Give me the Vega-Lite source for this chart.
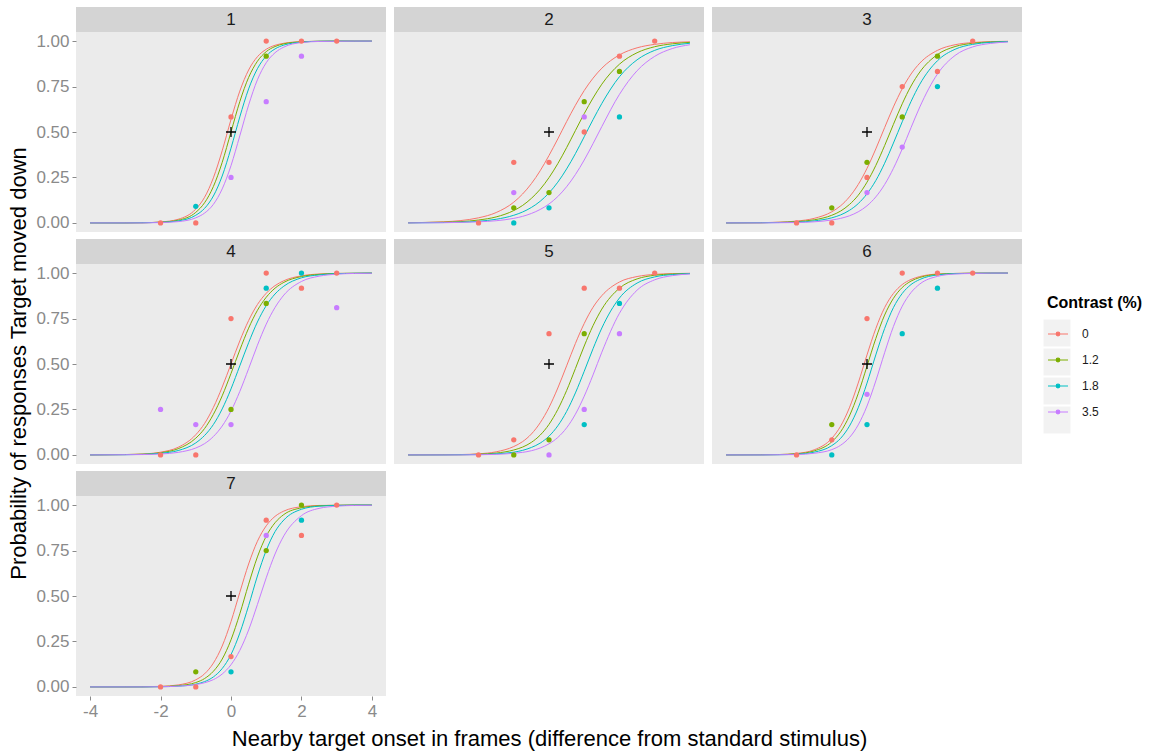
{
"$schema": "https://vega.github.io/schema/vega-lite/v6.json",
"background": "#FFFFFF",
"padding": {"left": 7, "top": 7, "right": 5, "bottom": 5},
"datasets": {
"panels": [{"p":1},{"p":2},{"p":3},{"p":4},{"p":5},{"p":6},{"p":7}],
"keys": [{"k":"k1"},{"k":"k2"},{"k":"k3"},{"k":"k4"}],
"obs": [
{"p":1,"c":"0","x":-2,"y":0},{"p":1,"c":"1.8","x":-1,"y":0.091},{"p":1,"c":"0","x":-1,"y":0},{"p":1,"c":"0","x":0,"y":0.583},{"p":1,"c":"3.5","x":0,"y":0.25},{"p":1,"c":"0","x":1,"y":1},{"p":1,"c":"1.2","x":1,"y":0.917},{"p":1,"c":"3.5","x":1,"y":0.667},{"p":1,"c":"0","x":2,"y":1},{"p":1,"c":"3.5","x":2,"y":0.917},{"p":1,"c":"0","x":3,"y":1},
{"p":2,"c":"0","x":-2,"y":0},{"p":2,"c":"0","x":-1,"y":0.333},{"p":2,"c":"3.5","x":-1,"y":0.167},{"p":2,"c":"1.2","x":-1,"y":0.083},{"p":2,"c":"1.8","x":-1,"y":0},{"p":2,"c":"0","x":0,"y":0.333},{"p":2,"c":"1.2","x":0,"y":0.167},{"p":2,"c":"1.8","x":0,"y":0.083},{"p":2,"c":"1.2","x":1,"y":0.667},{"p":2,"c":"3.5","x":1,"y":0.583},{"p":2,"c":"0","x":1,"y":0.5},{"p":2,"c":"0","x":2,"y":0.917},{"p":2,"c":"1.2","x":2,"y":0.833},{"p":2,"c":"1.8","x":2,"y":0.583},{"p":2,"c":"0","x":3,"y":1},
{"p":3,"c":"0","x":-2,"y":0},{"p":3,"c":"1.2","x":-1,"y":0.083},{"p":3,"c":"0","x":-1,"y":0},{"p":3,"c":"1.2","x":0,"y":0.333},{"p":3,"c":"0","x":0,"y":0.25},{"p":3,"c":"3.5","x":0,"y":0.167},{"p":3,"c":"0","x":1,"y":0.75},{"p":3,"c":"1.2","x":1,"y":0.583},{"p":3,"c":"3.5","x":1,"y":0.417},{"p":3,"c":"1.2","x":2,"y":0.917},{"p":3,"c":"0","x":2,"y":0.833},{"p":3,"c":"1.8","x":2,"y":0.75},{"p":3,"c":"0","x":3,"y":1},
{"p":4,"c":"3.5","x":-2,"y":0.25},{"p":4,"c":"0","x":-2,"y":0},{"p":4,"c":"3.5","x":-1,"y":0.167},{"p":4,"c":"0","x":-1,"y":0},{"p":4,"c":"0","x":0,"y":0.75},{"p":4,"c":"1.2","x":0,"y":0.25},{"p":4,"c":"3.5","x":0,"y":0.167},{"p":4,"c":"0","x":1,"y":1},{"p":4,"c":"1.8","x":1,"y":0.917},{"p":4,"c":"1.2","x":1,"y":0.833},{"p":4,"c":"1.8","x":2,"y":1},{"p":4,"c":"0","x":2,"y":0.917},{"p":4,"c":"0","x":3,"y":1},{"p":4,"c":"3.5","x":3,"y":0.81},
{"p":5,"c":"0","x":-2,"y":0},{"p":5,"c":"0","x":-1,"y":0.083},{"p":5,"c":"1.2","x":-1,"y":0},{"p":5,"c":"0","x":0,"y":0.667},{"p":5,"c":"1.2","x":0,"y":0.083},{"p":5,"c":"3.5","x":0,"y":0},{"p":5,"c":"0","x":1,"y":0.917},{"p":5,"c":"1.2","x":1,"y":0.667},{"p":5,"c":"3.5","x":1,"y":0.25},{"p":5,"c":"1.8","x":1,"y":0.167},{"p":5,"c":"0","x":2,"y":0.917},{"p":5,"c":"1.8","x":2,"y":0.833},{"p":5,"c":"3.5","x":2,"y":0.667},{"p":5,"c":"0","x":3,"y":1},
{"p":6,"c":"0","x":-2,"y":0},{"p":6,"c":"1.2","x":-1,"y":0.167},{"p":6,"c":"0","x":-1,"y":0.083},{"p":6,"c":"1.8","x":-1,"y":0},{"p":6,"c":"0","x":0,"y":0.75},{"p":6,"c":"3.5","x":0,"y":0.333},{"p":6,"c":"1.8","x":0,"y":0.167},{"p":6,"c":"0","x":1,"y":1},{"p":6,"c":"1.8","x":1,"y":0.667},{"p":6,"c":"0","x":2,"y":1},{"p":6,"c":"1.8","x":2,"y":0.917},{"p":6,"c":"0","x":3,"y":1},
{"p":7,"c":"0","x":-2,"y":0},{"p":7,"c":"1.2","x":-1,"y":0.083},{"p":7,"c":"0","x":-1,"y":0},{"p":7,"c":"0","x":0,"y":0.167},{"p":7,"c":"1.8","x":0,"y":0.083},{"p":7,"c":"0","x":1,"y":0.917},{"p":7,"c":"3.5","x":1,"y":0.833},{"p":7,"c":"1.2","x":1,"y":0.75},{"p":7,"c":"1.2","x":2,"y":1},{"p":7,"c":"1.8","x":2,"y":0.917},{"p":7,"c":"0","x":2,"y":0.833},{"p":7,"c":"0","x":3,"y":1}
],
"fit": [
{"p":1,"c":"0","x":-4,"y":0},{"p":1,"c":"0","x":-3,"y":0},{"p":1,"c":"0","x":-2.5,"y":0.001},{"p":1,"c":"0","x":-2,"y":0.005},{"p":1,"c":"0","x":-1.5,"y":0.02},{"p":1,"c":"0","x":-1,"y":0.076},{"p":1,"c":"0","x":-0.75,"y":0.141},{"p":1,"c":"0","x":-0.5,"y":0.248},{"p":1,"c":"0","x":-0.25,"y":0.397},{"p":1,"c":"0","x":0,"y":0.569},{"p":1,"c":"0","x":0.25,"y":0.725},{"p":1,"c":"0","x":0.5,"y":0.841},{"p":1,"c":"0","x":0.75,"y":0.914},{"p":1,"c":"0","x":1,"y":0.955},{"p":1,"c":"0","x":1.25,"y":0.977},{"p":1,"c":"0","x":1.5,"y":0.988},{"p":1,"c":"0","x":2,"y":0.997},{"p":1,"c":"0","x":2.5,"y":0.999},{"p":1,"c":"0","x":3,"y":1},{"p":1,"c":"0","x":3.5,"y":1},{"p":1,"c":"0","x":4,"y":1},
{"p":1,"c":"1.2","x":-4,"y":0},{"p":1,"c":"1.2","x":-3,"y":0},{"p":1,"c":"1.2","x":-2.5,"y":0.001},{"p":1,"c":"1.2","x":-2,"y":0.004},{"p":1,"c":"1.2","x":-1.5,"y":0.015},{"p":1,"c":"1.2","x":-1,"y":0.058},{"p":1,"c":"1.2","x":-0.75,"y":0.111},{"p":1,"c":"1.2","x":-0.5,"y":0.2},{"p":1,"c":"1.2","x":-0.25,"y":0.333},{"p":1,"c":"1.2","x":0,"y":0.5},{"p":1,"c":"1.2","x":0.25,"y":0.667},{"p":1,"c":"1.2","x":0.5,"y":0.8},{"p":1,"c":"1.2","x":0.75,"y":0.889},{"p":1,"c":"1.2","x":1,"y":0.942},{"p":1,"c":"1.2","x":1.25,"y":0.97},{"p":1,"c":"1.2","x":1.5,"y":0.985},{"p":1,"c":"1.2","x":2,"y":0.996},{"p":1,"c":"1.2","x":2.5,"y":0.999},{"p":1,"c":"1.2","x":3,"y":1},{"p":1,"c":"1.2","x":3.5,"y":1},{"p":1,"c":"1.2","x":4,"y":1},
{"p":1,"c":"1.8","x":-4,"y":0},{"p":1,"c":"1.8","x":-3,"y":0},{"p":1,"c":"1.8","x":-2.5,"y":0.001},{"p":1,"c":"1.8","x":-2,"y":0.003},{"p":1,"c":"1.8","x":-1.5,"y":0.011},{"p":1,"c":"1.8","x":-1,"y":0.042},{"p":1,"c":"1.8","x":-0.75,"y":0.08},{"p":1,"c":"1.8","x":-0.5,"y":0.148},{"p":1,"c":"1.8","x":-0.25,"y":0.258},{"p":1,"c":"1.8","x":0,"y":0.411},{"p":1,"c":"1.8","x":0.25,"y":0.583},{"p":1,"c":"1.8","x":0.5,"y":0.737},{"p":1,"c":"1.8","x":0.75,"y":0.848},{"p":1,"c":"1.8","x":1,"y":0.918},{"p":1,"c":"1.8","x":1.25,"y":0.957},{"p":1,"c":"1.8","x":1.5,"y":0.978},{"p":1,"c":"1.8","x":2,"y":0.994},{"p":1,"c":"1.8","x":2.5,"y":0.999},{"p":1,"c":"1.8","x":3,"y":1},{"p":1,"c":"1.8","x":3.5,"y":1},{"p":1,"c":"1.8","x":4,"y":1},
{"p":1,"c":"3.5","x":-4,"y":0},{"p":1,"c":"3.5","x":-3,"y":0},{"p":1,"c":"3.5","x":-2.5,"y":0},{"p":1,"c":"3.5","x":-2,"y":0.002},{"p":1,"c":"3.5","x":-1.5,"y":0.007},{"p":1,"c":"3.5","x":-1,"y":0.028},{"p":1,"c":"3.5","x":-0.75,"y":0.054},{"p":1,"c":"3.5","x":-0.5,"y":0.102},{"p":1,"c":"3.5","x":-0.25,"y":0.187},{"p":1,"c":"3.5","x":0,"y":0.315},{"p":1,"c":"3.5","x":0.25,"y":0.479},{"p":1,"c":"3.5","x":0.5,"y":0.648},{"p":1,"c":"3.5","x":0.75,"y":0.787},{"p":1,"c":"3.5","x":1,"y":0.881},{"p":1,"c":"3.5","x":1.25,"y":0.936},{"p":1,"c":"3.5","x":1.5,"y":0.967},{"p":1,"c":"3.5","x":2,"y":0.992},{"p":1,"c":"3.5","x":2.5,"y":0.998},{"p":1,"c":"3.5","x":3,"y":0.999},{"p":1,"c":"3.5","x":3.5,"y":1},{"p":1,"c":"3.5","x":4,"y":1},
{"p":2,"c":"0","x":-4,"y":0.001},{"p":2,"c":"0","x":-3,"y":0.006},{"p":2,"c":"0","x":-2.5,"y":0.013},{"p":2,"c":"0","x":-2,"y":0.028},{"p":2,"c":"0","x":-1.5,"y":0.057},{"p":2,"c":"0","x":-1,"y":0.114},{"p":2,"c":"0","x":-0.75,"y":0.159},{"p":2,"c":"0","x":-0.5,"y":0.216},{"p":2,"c":"0","x":-0.25,"y":0.287},{"p":2,"c":"0","x":0,"y":0.371},{"p":2,"c":"0","x":0.25,"y":0.462},{"p":2,"c":"0","x":0.5,"y":0.557},{"p":2,"c":"0","x":0.75,"y":0.647},{"p":2,"c":"0","x":1,"y":0.728},{"p":2,"c":"0","x":1.25,"y":0.796},{"p":2,"c":"0","x":1.5,"y":0.851},{"p":2,"c":"0","x":2,"y":0.924},{"p":2,"c":"0","x":2.5,"y":0.963},{"p":2,"c":"0","x":3,"y":0.982},{"p":2,"c":"0","x":3.5,"y":0.992},{"p":2,"c":"0","x":4,"y":0.996},
{"p":2,"c":"1.2","x":-4,"y":0.001},{"p":2,"c":"1.2","x":-3,"y":0.004},{"p":2,"c":"1.2","x":-2.5,"y":0.007},{"p":2,"c":"1.2","x":-2,"y":0.016},{"p":2,"c":"1.2","x":-1.5,"y":0.033},{"p":2,"c":"1.2","x":-1,"y":0.068},{"p":2,"c":"1.2","x":-0.75,"y":0.096},{"p":2,"c":"1.2","x":-0.5,"y":0.135},{"p":2,"c":"1.2","x":-0.25,"y":0.185},{"p":2,"c":"1.2","x":0,"y":0.249},{"p":2,"c":"1.2","x":0.25,"y":0.326},{"p":2,"c":"1.2","x":0.5,"y":0.414},{"p":2,"c":"1.2","x":0.75,"y":0.508},{"p":2,"c":"1.2","x":1,"y":0.601},{"p":2,"c":"1.2","x":1.25,"y":0.687},{"p":2,"c":"1.2","x":1.5,"y":0.763},{"p":2,"c":"1.2","x":2,"y":0.873},{"p":2,"c":"1.2","x":2.5,"y":0.936},{"p":2,"c":"1.2","x":3,"y":0.969},{"p":2,"c":"1.2","x":3.5,"y":0.985},{"p":2,"c":"1.2","x":4,"y":0.993},
{"p":2,"c":"1.8","x":-4,"y":0},{"p":2,"c":"1.8","x":-3,"y":0.002},{"p":2,"c":"1.8","x":-2.5,"y":0.004},{"p":2,"c":"1.8","x":-2,"y":0.009},{"p":2,"c":"1.8","x":-1.5,"y":0.02},{"p":2,"c":"1.8","x":-1,"y":0.042},{"p":2,"c":"1.8","x":-0.75,"y":0.06},{"p":2,"c":"1.8","x":-0.5,"y":0.085},{"p":2,"c":"1.8","x":-0.25,"y":0.119},{"p":2,"c":"1.8","x":0,"y":0.165},{"p":2,"c":"1.8","x":0.25,"y":0.224},{"p":2,"c":"1.8","x":0.5,"y":0.297},{"p":2,"c":"1.8","x":0.75,"y":0.381},{"p":2,"c":"1.8","x":1,"y":0.474},{"p":2,"c":"1.8","x":1.25,"y":0.568},{"p":2,"c":"1.8","x":1.5,"y":0.657},{"p":2,"c":"1.8","x":2,"y":0.804},{"p":2,"c":"1.8","x":2.5,"y":0.897},{"p":2,"c":"1.8","x":3,"y":0.949},{"p":2,"c":"1.8","x":3.5,"y":0.975},{"p":2,"c":"1.8","x":4,"y":0.988},
{"p":2,"c":"3.5","x":-4,"y":0},{"p":2,"c":"3.5","x":-3,"y":0.001},{"p":2,"c":"3.5","x":-2.5,"y":0.003},{"p":2,"c":"3.5","x":-2,"y":0.006},{"p":2,"c":"3.5","x":-1.5,"y":0.012},{"p":2,"c":"3.5","x":-1,"y":0.025},{"p":2,"c":"3.5","x":-0.75,"y":0.036},{"p":2,"c":"3.5","x":-0.5,"y":0.052},{"p":2,"c":"3.5","x":-0.25,"y":0.074},{"p":2,"c":"3.5","x":0,"y":0.104},{"p":2,"c":"3.5","x":0.25,"y":0.145},{"p":2,"c":"3.5","x":0.5,"y":0.199},{"p":2,"c":"3.5","x":0.75,"y":0.266},{"p":2,"c":"3.5","x":1,"y":0.346},{"p":2,"c":"3.5","x":1.25,"y":0.436},{"p":2,"c":"3.5","x":1.5,"y":0.53},{"p":2,"c":"3.5","x":2,"y":0.707},{"p":2,"c":"3.5","x":2.5,"y":0.837},{"p":2,"c":"3.5","x":3,"y":0.916},{"p":2,"c":"3.5","x":3.5,"y":0.959},{"p":2,"c":"3.5","x":4,"y":0.98},
{"p":3,"c":"0","x":-4,"y":0},{"p":3,"c":"0","x":-3,"y":0.001},{"p":3,"c":"0","x":-2.5,"y":0.004},{"p":3,"c":"0","x":-2,"y":0.01},{"p":3,"c":"0","x":-1.5,"y":0.025},{"p":3,"c":"0","x":-1,"y":0.061},{"p":3,"c":"0","x":-0.75,"y":0.094},{"p":3,"c":"0","x":-0.5,"y":0.143},{"p":3,"c":"0","x":-0.25,"y":0.211},{"p":3,"c":"0","x":0,"y":0.3},{"p":3,"c":"0","x":0.25,"y":0.407},{"p":3,"c":"0","x":0.5,"y":0.524},{"p":3,"c":"0","x":0.75,"y":0.638},{"p":3,"c":"0","x":1,"y":0.738},{"p":3,"c":"0","x":1.25,"y":0.819},{"p":3,"c":"0","x":1.5,"y":0.879},{"p":3,"c":"0","x":2,"y":0.949},{"p":3,"c":"0","x":2.5,"y":0.98},{"p":3,"c":"0","x":3,"y":0.992},{"p":3,"c":"0","x":3.5,"y":0.997},{"p":3,"c":"0","x":4,"y":0.999},
{"p":3,"c":"1.2","x":-4,"y":0},{"p":3,"c":"1.2","x":-3,"y":0.001},{"p":3,"c":"1.2","x":-2.5,"y":0.003},{"p":3,"c":"1.2","x":-2,"y":0.007},{"p":3,"c":"1.2","x":-1.5,"y":0.017},{"p":3,"c":"1.2","x":-1,"y":0.042},{"p":3,"c":"1.2","x":-0.75,"y":0.065},{"p":3,"c":"1.2","x":-0.5,"y":0.101},{"p":3,"c":"1.2","x":-0.25,"y":0.152},{"p":3,"c":"1.2","x":0,"y":0.224},{"p":3,"c":"1.2","x":0.25,"y":0.316},{"p":3,"c":"1.2","x":0.5,"y":0.425},{"p":3,"c":"1.2","x":0.75,"y":0.542},{"p":3,"c":"1.2","x":1,"y":0.655},{"p":3,"c":"1.2","x":1.25,"y":0.753},{"p":3,"c":"1.2","x":1.5,"y":0.83},{"p":3,"c":"1.2","x":2,"y":0.926},{"p":3,"c":"1.2","x":2.5,"y":0.97},{"p":3,"c":"1.2","x":3,"y":0.988},{"p":3,"c":"1.2","x":3.5,"y":0.995},{"p":3,"c":"1.2","x":4,"y":0.998},
{"p":3,"c":"1.8","x":-4,"y":0},{"p":3,"c":"1.8","x":-3,"y":0.001},{"p":3,"c":"1.8","x":-2.5,"y":0.002},{"p":3,"c":"1.8","x":-2,"y":0.004},{"p":3,"c":"1.8","x":-1.5,"y":0.011},{"p":3,"c":"1.8","x":-1,"y":0.028},{"p":3,"c":"1.8","x":-0.75,"y":0.044},{"p":3,"c":"1.8","x":-0.5,"y":0.069},{"p":3,"c":"1.8","x":-0.25,"y":0.106},{"p":3,"c":"1.8","x":0,"y":0.16},{"p":3,"c":"1.8","x":0.25,"y":0.233},{"p":3,"c":"1.8","x":0.5,"y":0.328},{"p":3,"c":"1.8","x":0.75,"y":0.439},{"p":3,"c":"1.8","x":1,"y":0.556},{"p":3,"c":"1.8","x":1.25,"y":0.668},{"p":3,"c":"1.8","x":1.5,"y":0.763},{"p":3,"c":"1.8","x":2,"y":0.892},{"p":3,"c":"1.8","x":2.5,"y":0.955},{"p":3,"c":"1.8","x":3,"y":0.982},{"p":3,"c":"1.8","x":3.5,"y":0.993},{"p":3,"c":"1.8","x":4,"y":0.997},
{"p":3,"c":"3.5","x":-4,"y":0},{"p":3,"c":"3.5","x":-3,"y":0},{"p":3,"c":"3.5","x":-2.5,"y":0.001},{"p":3,"c":"3.5","x":-2,"y":0.002},{"p":3,"c":"3.5","x":-1.5,"y":0.006},{"p":3,"c":"3.5","x":-1,"y":0.016},{"p":3,"c":"3.5","x":-0.75,"y":0.025},{"p":3,"c":"3.5","x":-0.5,"y":0.039},{"p":3,"c":"3.5","x":-0.25,"y":0.061},{"p":3,"c":"3.5","x":0,"y":0.094},{"p":3,"c":"3.5","x":0.25,"y":0.143},{"p":3,"c":"3.5","x":0.5,"y":0.211},{"p":3,"c":"3.5","x":0.75,"y":0.3},{"p":3,"c":"3.5","x":1,"y":0.407},{"p":3,"c":"3.5","x":1.25,"y":0.524},{"p":3,"c":"3.5","x":1.5,"y":0.638},{"p":3,"c":"3.5","x":2,"y":0.819},{"p":3,"c":"3.5","x":2.5,"y":0.921},{"p":3,"c":"3.5","x":3,"y":0.968},{"p":3,"c":"3.5","x":3.5,"y":0.987},{"p":3,"c":"3.5","x":4,"y":0.995},
{"p":4,"c":"0","x":-4,"y":0},{"p":4,"c":"0","x":-3,"y":0.002},{"p":4,"c":"0","x":-2.5,"y":0.005},{"p":4,"c":"0","x":-2,"y":0.015},{"p":4,"c":"0","x":-1.5,"y":0.042},{"p":4,"c":"0","x":-1,"y":0.111},{"p":4,"c":"0","x":-0.75,"y":0.173},{"p":4,"c":"0","x":-0.5,"y":0.261},{"p":4,"c":"0","x":-0.25,"y":0.373},{"p":4,"c":"0","x":0,"y":0.5},{"p":4,"c":"0","x":0.25,"y":0.627},{"p":4,"c":"0","x":0.5,"y":0.739},{"p":4,"c":"0","x":0.75,"y":0.827},{"p":4,"c":"0","x":1,"y":0.889},{"p":4,"c":"0","x":1.25,"y":0.931},{"p":4,"c":"0","x":1.5,"y":0.958},{"p":4,"c":"0","x":2,"y":0.985},{"p":4,"c":"0","x":2.5,"y":0.995},{"p":4,"c":"0","x":3,"y":0.998},{"p":4,"c":"0","x":3.5,"y":0.999},{"p":4,"c":"0","x":4,"y":1},
{"p":4,"c":"1.2","x":-4,"y":0},{"p":4,"c":"1.2","x":-3,"y":0.002},{"p":4,"c":"1.2","x":-2.5,"y":0.004},{"p":4,"c":"1.2","x":-2,"y":0.012},{"p":4,"c":"1.2","x":-1.5,"y":0.034},{"p":4,"c":"1.2","x":-1,"y":0.092},{"p":4,"c":"1.2","x":-0.75,"y":0.145},{"p":4,"c":"1.2","x":-0.5,"y":0.223},{"p":4,"c":"1.2","x":-0.25,"y":0.325},{"p":4,"c":"1.2","x":0,"y":0.448},{"p":4,"c":"1.2","x":0.25,"y":0.577},{"p":4,"c":"1.2","x":0.5,"y":0.697},{"p":4,"c":"1.2","x":0.75,"y":0.795},{"p":4,"c":"1.2","x":1,"y":0.867},{"p":4,"c":"1.2","x":1.25,"y":0.917},{"p":4,"c":"1.2","x":1.5,"y":0.949},{"p":4,"c":"1.2","x":2,"y":0.981},{"p":4,"c":"1.2","x":2.5,"y":0.993},{"p":4,"c":"1.2","x":3,"y":0.998},{"p":4,"c":"1.2","x":3.5,"y":0.999},{"p":4,"c":"1.2","x":4,"y":1},
{"p":4,"c":"1.8","x":-4,"y":0},{"p":4,"c":"1.8","x":-3,"y":0.001},{"p":4,"c":"1.8","x":-2.5,"y":0.003},{"p":4,"c":"1.8","x":-2,"y":0.009},{"p":4,"c":"1.8","x":-1.5,"y":0.024},{"p":4,"c":"1.8","x":-1,"y":0.066},{"p":4,"c":"1.8","x":-0.75,"y":0.107},{"p":4,"c":"1.8","x":-0.5,"y":0.167},{"p":4,"c":"1.8","x":-0.25,"y":0.253},{"p":4,"c":"1.8","x":0,"y":0.363},{"p":4,"c":"1.8","x":0.25,"y":0.49},{"p":4,"c":"1.8","x":0.5,"y":0.617},{"p":4,"c":"1.8","x":0.75,"y":0.731},{"p":4,"c":"1.8","x":1,"y":0.821},{"p":4,"c":"1.8","x":1.25,"y":0.885},{"p":4,"c":"1.8","x":1.5,"y":0.928},{"p":4,"c":"1.8","x":2,"y":0.974},{"p":4,"c":"1.8","x":2.5,"y":0.99},{"p":4,"c":"1.8","x":3,"y":0.997},{"p":4,"c":"1.8","x":3.5,"y":0.999},{"p":4,"c":"1.8","x":4,"y":1},
{"p":4,"c":"3.5","x":-4,"y":0},{"p":4,"c":"3.5","x":-3,"y":0.001},{"p":4,"c":"3.5","x":-2.5,"y":0.002},{"p":4,"c":"3.5","x":-2,"y":0.005},{"p":4,"c":"3.5","x":-1.5,"y":0.014},{"p":4,"c":"3.5","x":-1,"y":0.038},{"p":4,"c":"3.5","x":-0.75,"y":0.062},{"p":4,"c":"3.5","x":-0.5,"y":0.101},{"p":4,"c":"3.5","x":-0.25,"y":0.159},{"p":4,"c":"3.5","x":0,"y":0.241},{"p":4,"c":"3.5","x":0.25,"y":0.349},{"p":4,"c":"3.5","x":0.5,"y":0.474},{"p":4,"c":"3.5","x":0.75,"y":0.603},{"p":4,"c":"3.5","x":1,"y":0.719},{"p":4,"c":"3.5","x":1.25,"y":0.811},{"p":4,"c":"3.5","x":1.5,"y":0.879},{"p":4,"c":"3.5","x":2,"y":0.954},{"p":4,"c":"3.5","x":2.5,"y":0.983},{"p":4,"c":"3.5","x":3,"y":0.994},{"p":4,"c":"3.5","x":3.5,"y":0.998},{"p":4,"c":"3.5","x":4,"y":0.999},
{"p":5,"c":"0","x":-4,"y":0},{"p":5,"c":"0","x":-3,"y":0.001},{"p":5,"c":"0","x":-2.5,"y":0.002},{"p":5,"c":"0","x":-2,"y":0.006},{"p":5,"c":"0","x":-1.5,"y":0.017},{"p":5,"c":"0","x":-1,"y":0.046},{"p":5,"c":"0","x":-0.75,"y":0.073},{"p":5,"c":"0","x":-0.5,"y":0.115},{"p":5,"c":"0","x":-0.25,"y":0.177},{"p":5,"c":"0","x":0,"y":0.261},{"p":5,"c":"0","x":0.25,"y":0.368},{"p":5,"c":"0","x":0.5,"y":0.49},{"p":5,"c":"0","x":0.75,"y":0.613},{"p":5,"c":"0","x":1,"y":0.723},{"p":5,"c":"0","x":1.25,"y":0.812},{"p":5,"c":"0","x":1.5,"y":0.876},{"p":5,"c":"0","x":2,"y":0.951},{"p":5,"c":"0","x":2.5,"y":0.981},{"p":5,"c":"0","x":3,"y":0.993},{"p":5,"c":"0","x":3.5,"y":0.997},{"p":5,"c":"0","x":4,"y":0.999},
{"p":5,"c":"1.2","x":-4,"y":0},{"p":5,"c":"1.2","x":-3,"y":0.001},{"p":5,"c":"1.2","x":-2.5,"y":0.001},{"p":5,"c":"1.2","x":-2,"y":0.004},{"p":5,"c":"1.2","x":-1.5,"y":0.01},{"p":5,"c":"1.2","x":-1,"y":0.027},{"p":5,"c":"1.2","x":-0.75,"y":0.043},{"p":5,"c":"1.2","x":-0.5,"y":0.069},{"p":5,"c":"1.2","x":-0.25,"y":0.109},{"p":5,"c":"1.2","x":0,"y":0.168},{"p":5,"c":"1.2","x":0.25,"y":0.25},{"p":5,"c":"1.2","x":0.5,"y":0.354},{"p":5,"c":"1.2","x":0.75,"y":0.475},{"p":5,"c":"1.2","x":1,"y":0.599},{"p":5,"c":"1.2","x":1.25,"y":0.711},{"p":5,"c":"1.2","x":1.5,"y":0.802},{"p":5,"c":"1.2","x":2,"y":0.917},{"p":5,"c":"1.2","x":2.5,"y":0.968},{"p":5,"c":"1.2","x":3,"y":0.988},{"p":5,"c":"1.2","x":3.5,"y":0.995},{"p":5,"c":"1.2","x":4,"y":0.998},
{"p":5,"c":"1.8","x":-4,"y":0},{"p":5,"c":"1.8","x":-3,"y":0},{"p":5,"c":"1.8","x":-2.5,"y":0.001},{"p":5,"c":"1.8","x":-2,"y":0.002},{"p":5,"c":"1.8","x":-1.5,"y":0.006},{"p":5,"c":"1.8","x":-1,"y":0.015},{"p":5,"c":"1.8","x":-0.75,"y":0.025},{"p":5,"c":"1.8","x":-0.5,"y":0.041},{"p":5,"c":"1.8","x":-0.25,"y":0.065},{"p":5,"c":"1.8","x":0,"y":0.103},{"p":5,"c":"1.8","x":0.25,"y":0.16},{"p":5,"c":"1.8","x":0.5,"y":0.239},{"p":5,"c":"1.8","x":0.75,"y":0.341},{"p":5,"c":"1.8","x":1,"y":0.46},{"p":5,"c":"1.8","x":1.25,"y":0.584},{"p":5,"c":"1.8","x":1.5,"y":0.698},{"p":5,"c":"1.8","x":2,"y":0.863},{"p":5,"c":"1.8","x":2.5,"y":0.945},{"p":5,"c":"1.8","x":3,"y":0.979},{"p":5,"c":"1.8","x":3.5,"y":0.992},{"p":5,"c":"1.8","x":4,"y":0.997},
{"p":5,"c":"3.5","x":-4,"y":0},{"p":5,"c":"3.5","x":-3,"y":0},{"p":5,"c":"3.5","x":-2.5,"y":0},{"p":5,"c":"3.5","x":-2,"y":0.001},{"p":5,"c":"3.5","x":-1.5,"y":0.003},{"p":5,"c":"3.5","x":-1,"y":0.009},{"p":5,"c":"3.5","x":-0.75,"y":0.014},{"p":5,"c":"3.5","x":-0.5,"y":0.023},{"p":5,"c":"3.5","x":-0.25,"y":0.038},{"p":5,"c":"3.5","x":0,"y":0.061},{"p":5,"c":"3.5","x":0.25,"y":0.096},{"p":5,"c":"3.5","x":0.5,"y":0.149},{"p":5,"c":"3.5","x":0.75,"y":0.224},{"p":5,"c":"3.5","x":1,"y":0.323},{"p":5,"c":"3.5","x":1.25,"y":0.44},{"p":5,"c":"3.5","x":1.5,"y":0.565},{"p":5,"c":"3.5","x":2,"y":0.779},{"p":5,"c":"3.5","x":2.5,"y":0.906},{"p":5,"c":"3.5","x":3,"y":0.963},{"p":5,"c":"3.5","x":3.5,"y":0.986},{"p":5,"c":"3.5","x":4,"y":0.995},
{"p":6,"c":"0","x":-4,"y":0},{"p":6,"c":"0","x":-3,"y":0.001},{"p":6,"c":"0","x":-2.5,"y":0.002},{"p":6,"c":"0","x":-2,"y":0.008},{"p":6,"c":"0","x":-1.5,"y":0.028},{"p":6,"c":"0","x":-1,"y":0.091},{"p":6,"c":"0","x":-0.75,"y":0.158},{"p":6,"c":"0","x":-0.5,"y":0.259},{"p":6,"c":"0","x":-0.25,"y":0.395},{"p":6,"c":"0","x":0,"y":0.55},{"p":6,"c":"0","x":0.25,"y":0.695},{"p":6,"c":"0","x":0.5,"y":0.81},{"p":6,"c":"0","x":0.75,"y":0.888},{"p":6,"c":"0","x":1,"y":0.937},{"p":6,"c":"0","x":1.25,"y":0.965},{"p":6,"c":"0","x":1.5,"y":0.981},{"p":6,"c":"0","x":2,"y":0.995},{"p":6,"c":"0","x":2.5,"y":0.998},{"p":6,"c":"0","x":3,"y":1},{"p":6,"c":"0","x":3.5,"y":1},{"p":6,"c":"0","x":4,"y":1},
{"p":6,"c":"1.2","x":-4,"y":0},{"p":6,"c":"1.2","x":-3,"y":0.001},{"p":6,"c":"1.2","x":-2.5,"y":0.002},{"p":6,"c":"1.2","x":-2,"y":0.006},{"p":6,"c":"1.2","x":-1.5,"y":0.022},{"p":6,"c":"1.2","x":-1,"y":0.072},{"p":6,"c":"1.2","x":-0.75,"y":0.127},{"p":6,"c":"1.2","x":-0.5,"y":0.214},{"p":6,"c":"1.2","x":-0.25,"y":0.337},{"p":6,"c":"1.2","x":0,"y":0.488},{"p":6,"c":"1.2","x":0.25,"y":0.64},{"p":6,"c":"1.2","x":0.5,"y":0.769},{"p":6,"c":"1.2","x":0.75,"y":0.861},{"p":6,"c":"1.2","x":1,"y":0.921},{"p":6,"c":"1.2","x":1.25,"y":0.956},{"p":6,"c":"1.2","x":1.5,"y":0.976},{"p":6,"c":"1.2","x":2,"y":0.993},{"p":6,"c":"1.2","x":2.5,"y":0.998},{"p":6,"c":"1.2","x":3,"y":0.999},{"p":6,"c":"1.2","x":3.5,"y":1},{"p":6,"c":"1.2","x":4,"y":1},
{"p":6,"c":"1.8","x":-4,"y":0},{"p":6,"c":"1.8","x":-3,"y":0},{"p":6,"c":"1.8","x":-2.5,"y":0.001},{"p":6,"c":"1.8","x":-2,"y":0.004},{"p":6,"c":"1.8","x":-1.5,"y":0.015},{"p":6,"c":"1.8","x":-1,"y":0.051},{"p":6,"c":"1.8","x":-0.75,"y":0.091},{"p":6,"c":"1.8","x":-0.5,"y":0.158},{"p":6,"c":"1.8","x":-0.25,"y":0.259},{"p":6,"c":"1.8","x":0,"y":0.395},{"p":6,"c":"1.8","x":0.25,"y":0.55},{"p":6,"c":"1.8","x":0.5,"y":0.695},{"p":6,"c":"1.8","x":0.75,"y":0.81},{"p":6,"c":"1.8","x":1,"y":0.888},{"p":6,"c":"1.8","x":1.25,"y":0.937},{"p":6,"c":"1.8","x":1.5,"y":0.965},{"p":6,"c":"1.8","x":2,"y":0.99},{"p":6,"c":"1.8","x":2.5,"y":0.997},{"p":6,"c":"1.8","x":3,"y":0.999},{"p":6,"c":"1.8","x":3.5,"y":1},{"p":6,"c":"1.8","x":4,"y":1},
{"p":6,"c":"3.5","x":-4,"y":0},{"p":6,"c":"3.5","x":-3,"y":0},{"p":6,"c":"3.5","x":-2.5,"y":0.001},{"p":6,"c":"3.5","x":-2,"y":0.002},{"p":6,"c":"3.5","x":-1.5,"y":0.009},{"p":6,"c":"3.5","x":-1,"y":0.029},{"p":6,"c":"3.5","x":-0.75,"y":0.053},{"p":6,"c":"3.5","x":-0.5,"y":0.095},{"p":6,"c":"3.5","x":-0.25,"y":0.165},{"p":6,"c":"3.5","x":0,"y":0.269},{"p":6,"c":"3.5","x":0.25,"y":0.407},{"p":6,"c":"3.5","x":0.5,"y":0.562},{"p":6,"c":"3.5","x":0.75,"y":0.706},{"p":6,"c":"3.5","x":1,"y":0.818},{"p":6,"c":"3.5","x":1.25,"y":0.893},{"p":6,"c":"3.5","x":1.5,"y":0.94},{"p":6,"c":"3.5","x":2,"y":0.982},{"p":6,"c":"3.5","x":2.5,"y":0.995},{"p":6,"c":"3.5","x":3,"y":0.998},{"p":6,"c":"3.5","x":3.5,"y":1},{"p":6,"c":"3.5","x":4,"y":1},
{"p":7,"c":"0","x":-4,"y":0},{"p":7,"c":"0","x":-3,"y":0},{"p":7,"c":"0","x":-2.5,"y":0.001},{"p":7,"c":"0","x":-2,"y":0.003},{"p":7,"c":"0","x":-1.5,"y":0.011},{"p":7,"c":"0","x":-1,"y":0.039},{"p":7,"c":"0","x":-0.75,"y":0.072},{"p":7,"c":"0","x":-0.5,"y":0.131},{"p":7,"c":"0","x":-0.25,"y":0.225},{"p":7,"c":"0","x":0,"y":0.359},{"p":7,"c":"0","x":0.25,"y":0.52},{"p":7,"c":"0","x":0.5,"y":0.676},{"p":7,"c":"0","x":0.75,"y":0.801},{"p":7,"c":"0","x":1,"y":0.886},{"p":7,"c":"0","x":1.25,"y":0.938},{"p":7,"c":"0","x":1.5,"y":0.967},{"p":7,"c":"0","x":2,"y":0.991},{"p":7,"c":"0","x":2.5,"y":0.998},{"p":7,"c":"0","x":3,"y":0.999},{"p":7,"c":"0","x":3.5,"y":1},{"p":7,"c":"0","x":4,"y":1},
{"p":7,"c":"1.2","x":-4,"y":0},{"p":7,"c":"1.2","x":-3,"y":0},{"p":7,"c":"1.2","x":-2.5,"y":0},{"p":7,"c":"1.2","x":-2,"y":0.002},{"p":7,"c":"1.2","x":-1.5,"y":0.007},{"p":7,"c":"1.2","x":-1,"y":0.024},{"p":7,"c":"1.2","x":-0.75,"y":0.046},{"p":7,"c":"1.2","x":-0.5,"y":0.086},{"p":7,"c":"1.2","x":-0.25,"y":0.153},{"p":7,"c":"1.2","x":0,"y":0.259},{"p":7,"c":"1.2","x":0.25,"y":0.402},{"p":7,"c":"1.2","x":0.5,"y":0.565},{"p":7,"c":"1.2","x":0.75,"y":0.715},{"p":7,"c":"1.2","x":1,"y":0.829},{"p":7,"c":"1.2","x":1.25,"y":0.903},{"p":7,"c":"1.2","x":1.5,"y":0.948},{"p":7,"c":"1.2","x":2,"y":0.985},{"p":7,"c":"1.2","x":2.5,"y":0.996},{"p":7,"c":"1.2","x":3,"y":0.999},{"p":7,"c":"1.2","x":3.5,"y":1},{"p":7,"c":"1.2","x":4,"y":1},
{"p":7,"c":"1.8","x":-4,"y":0},{"p":7,"c":"1.8","x":-3,"y":0},{"p":7,"c":"1.8","x":-2.5,"y":0},{"p":7,"c":"1.8","x":-2,"y":0.001},{"p":7,"c":"1.8","x":-1.5,"y":0.004},{"p":7,"c":"1.8","x":-1,"y":0.015},{"p":7,"c":"1.8","x":-0.75,"y":0.029},{"p":7,"c":"1.8","x":-0.5,"y":0.055},{"p":7,"c":"1.8","x":-0.25,"y":0.101},{"p":7,"c":"1.8","x":0,"y":0.178},{"p":7,"c":"1.8","x":0.25,"y":0.296},{"p":7,"c":"1.8","x":0.5,"y":0.447},{"p":7,"c":"1.8","x":0.75,"y":0.61},{"p":7,"c":"1.8","x":1,"y":0.751},{"p":7,"c":"1.8","x":1.25,"y":0.854},{"p":7,"c":"1.8","x":1.5,"y":0.918},{"p":7,"c":"1.8","x":2,"y":0.977},{"p":7,"c":"1.8","x":2.5,"y":0.994},{"p":7,"c":"1.8","x":3,"y":0.998},{"p":7,"c":"1.8","x":3.5,"y":1},{"p":7,"c":"1.8","x":4,"y":1},
{"p":7,"c":"3.5","x":-4,"y":0},{"p":7,"c":"3.5","x":-3,"y":0},{"p":7,"c":"3.5","x":-2.5,"y":0},{"p":7,"c":"3.5","x":-2,"y":0.001},{"p":7,"c":"3.5","x":-1.5,"y":0.004},{"p":7,"c":"3.5","x":-1,"y":0.013},{"p":7,"c":"3.5","x":-0.75,"y":0.023},{"p":7,"c":"3.5","x":-0.5,"y":0.04},{"p":7,"c":"3.5","x":-0.25,"y":0.071},{"p":7,"c":"3.5","x":0,"y":0.122},{"p":7,"c":"3.5","x":0.25,"y":0.201},{"p":7,"c":"3.5","x":0.5,"y":0.313},{"p":7,"c":"3.5","x":0.75,"y":0.453},{"p":7,"c":"3.5","x":1,"y":0.6},{"p":7,"c":"3.5","x":1.25,"y":0.731},{"p":7,"c":"3.5","x":1.5,"y":0.831},{"p":7,"c":"3.5","x":2,"y":0.942},{"p":7,"c":"3.5","x":2.5,"y":0.982},{"p":7,"c":"3.5","x":3,"y":0.994},{"p":7,"c":"3.5","x":3.5,"y":0.998},{"p":7,"c":"3.5","x":4,"y":0.999}
]
},
"columns": 3,
"spacing": {"row": 7, "column": 8},
"bounds": "flush",
"concat": [
{"width": 310, "height": 225, "layer": [
 {"data": {"name": "panels"}, "transform": [{"filter": "datum.p == 1"}], "mark": {"type": "rect", "color": "#D4D4D4"},
  "encoding": {"x": {"datum": -4.4, "type": "quantitative", "scale": {"domain": [-4.4, 4.4], "nice": false, "zero": false}, "axis": {"title": null, "labels": false, "ticks": false, "domain": false, "values": [-4,-3,-2,-1,0,1,2,3,4], "gridColor": "#FFFFFF", "gridWidth": {"condition": {"test": "datum.value % 2 !== 0", "value": 0.55}, "value": 1.1}}},
   "x2": {"datum": 4.4},
   "y": {"datum": 1.05, "type": "quantitative", "scale": {"domain": [-0.05, 1.1875], "nice": false, "zero": false}, "axis": {"title": null, "domain": false, "values": [0,0.125,0.25,0.375,0.5,0.625,0.75,0.875,1], "labelExpr": "(datum.value * 4) % 1 === 0 ? format(datum.value, '.2f') : ''", "tickOpacity": {"condition": {"test": "(datum.value * 4) % 1 !== 0", "value": 0}, "value": 1}, "gridColor": "#FFFFFF", "gridWidth": {"condition": {"test": "(datum.value * 4) % 1 !== 0", "value": 0.55}, "value": 1.1}}},
   "y2": {"datum": 1.1875}}},
 {"data": {"name": "panels"}, "transform": [{"filter": "datum.p == 1"}], "mark": {"type": "text", "fontSize": 17, "color": "#1A1A1A", "font": "Liberation Sans", "baseline": "middle"}, "encoding": {"x": {"datum": 0, "type": "quantitative"}, "y": {"datum": 1.11875, "type": "quantitative"}, "text": {"field": "p", "type": "nominal"}}},
 {"data": {"name": "keys"}, "mark": {"type": "point", "filled": true, "opacity": 0, "color": "#F2F2F2"}, "encoding": {"x": {"datum": 0, "type": "quantitative"}, "y": {"datum": 0.5, "type": "quantitative"}, "shape": {"field": "k", "type": "nominal", "scale": {"domain": ["k1","k2","k3","k4"], "range": ["square","square","square","square"]}, "legend": {"title": " ", "orient": "none", "legendX": 967.5, "legendY": 284.5, "zindex": 1, "titleFontSize": 16, "titleFontWeight": "bold", "titleFont": "Liberation Sans", "titleOpacity": 0, "titlePadding": 12, "labelExpr": "''", "labelOpacity": 0, "labelFontSize": 12, "rowPadding": 2, "symbolSize": 729, "symbolFillColor": "#F2F2F2", "symbolStrokeColor": "#F2F2F2", "symbolStrokeWidth": 0, "symbolOpacity": 1, "encode": {"symbols": {"update": {"fill": {"value": "#F2F2F2"}, "stroke": {"value": "#F2F2F2"}, "strokeWidth": {"value": 0}, "opacity": {"value": 1}}}}}}}},
 {"data": {"name": "fit"}, "transform": [{"filter": "datum.p == 1"}], "mark": {"type": "line", "strokeWidth": 1, "interpolate": "monotone"}, "encoding": {"x": {"field": "x", "type": "quantitative"}, "y": {"field": "y", "type": "quantitative"}, "color": {"field": "c", "type": "nominal", "scale": {"domain": ["0","1.2","1.8","3.5"], "range": ["#F8766D","#7CAE00","#00BFC4","#C77CFF"]}, "legend": {"title": "Contrast  (%)", "orient": "none", "legendX": 971, "legendY": 288, "zindex": 2, "titleFontSize": 16, "titleFontWeight": "bold", "titleColor": "#000000", "titleFont": "Liberation Sans", "titlePadding": 12, "labelFont": "Liberation Sans", "labelFontSize": 12, "labelColor": "#1A1A1A", "labelOffset": 13, "rowPadding": 9, "symbolType": "M-1,0H1M-0.18,0A0.18,0.18,0,1,0,0.18,0A0.18,0.18,0,1,0,-0.18,0Z", "symbolSize": 400, "symbolStrokeWidth": 1.2, "encode": {"symbols": {"update": {"fill": {"scale": "color", "field": "value"}, "stroke": {"scale": "color", "field": "value"}, "opacity": {"value": 1}}}}}}}},
 {"data": {"name": "obs"}, "transform": [{"filter": "datum.p == 1"}], "mark": {"type": "circle", "size": 28, "opacity": 1}, "encoding": {"x": {"field": "x", "type": "quantitative"}, "y": {"field": "y", "type": "quantitative"}, "color": {"field": "c", "type": "nominal"}}},
 {"data": {"name": "panels"}, "transform": [{"filter": "datum.p == 1"}], "mark": {"type": "point", "shape": "M-1,0H1M0,-1V1", "size": 100, "stroke": "#000000", "strokeWidth": 1.3, "filled": false, "opacity": 1}, "encoding": {"x": {"datum": 0, "type": "quantitative"}, "y": {"datum": 0.5, "type": "quantitative"}}}
]},
{"width": 310, "height": 225, "layer": [
 {"data": {"name": "panels"}, "transform": [{"filter": "datum.p == 2"}], "mark": {"type": "rect", "color": "#D4D4D4"},
  "encoding": {"x": {"datum": -4.4, "type": "quantitative", "scale": {"domain": [-4.4, 4.4], "nice": false, "zero": false}, "axis": {"title": null, "labels": false, "ticks": false, "domain": false, "values": [-4,-3,-2,-1,0,1,2,3,4], "gridColor": "#FFFFFF", "gridWidth": {"condition": {"test": "datum.value % 2 !== 0", "value": 0.55}, "value": 1.1}}},
   "x2": {"datum": 4.4},
   "y": {"datum": 1.05, "type": "quantitative", "scale": {"domain": [-0.05, 1.1875], "nice": false, "zero": false}, "axis": {"title": null, "labels": false, "ticks": false, "domain": false, "values": [0,0.125,0.25,0.375,0.5,0.625,0.75,0.875,1], "gridColor": "#FFFFFF", "gridWidth": {"condition": {"test": "(datum.value * 4) % 1 !== 0", "value": 0.55}, "value": 1.1}}},
   "y2": {"datum": 1.1875}}},
 {"data": {"name": "panels"}, "transform": [{"filter": "datum.p == 2"}], "mark": {"type": "text", "fontSize": 17, "color": "#1A1A1A", "font": "Liberation Sans", "baseline": "middle"}, "encoding": {"x": {"datum": 0, "type": "quantitative"}, "y": {"datum": 1.11875, "type": "quantitative"}, "text": {"field": "p", "type": "nominal"}}},
 {"data": {"name": "fit"}, "transform": [{"filter": "datum.p == 2"}], "mark": {"type": "line", "strokeWidth": 1, "interpolate": "monotone"}, "encoding": {"x": {"field": "x", "type": "quantitative"}, "y": {"field": "y", "type": "quantitative"}, "color": {"field": "c", "type": "nominal"}}},
 {"data": {"name": "obs"}, "transform": [{"filter": "datum.p == 2"}], "mark": {"type": "circle", "size": 28, "opacity": 1}, "encoding": {"x": {"field": "x", "type": "quantitative"}, "y": {"field": "y", "type": "quantitative"}, "color": {"field": "c", "type": "nominal"}}},
 {"data": {"name": "panels"}, "transform": [{"filter": "datum.p == 2"}], "mark": {"type": "point", "shape": "M-1,0H1M0,-1V1", "size": 100, "stroke": "#000000", "strokeWidth": 1.3, "filled": false, "opacity": 1}, "encoding": {"x": {"datum": 0, "type": "quantitative"}, "y": {"datum": 0.5, "type": "quantitative"}}}
]},
{"width": 310, "height": 225, "layer": [
 {"data": {"name": "panels"}, "transform": [{"filter": "datum.p == 3"}], "mark": {"type": "rect", "color": "#D4D4D4"},
  "encoding": {"x": {"datum": -4.4, "type": "quantitative", "scale": {"domain": [-4.4, 4.4], "nice": false, "zero": false}, "axis": {"title": null, "labels": false, "ticks": false, "domain": false, "values": [-4,-3,-2,-1,0,1,2,3,4], "gridColor": "#FFFFFF", "gridWidth": {"condition": {"test": "datum.value % 2 !== 0", "value": 0.55}, "value": 1.1}}},
   "x2": {"datum": 4.4},
   "y": {"datum": 1.05, "type": "quantitative", "scale": {"domain": [-0.05, 1.1875], "nice": false, "zero": false}, "axis": {"title": null, "labels": false, "ticks": false, "domain": false, "values": [0,0.125,0.25,0.375,0.5,0.625,0.75,0.875,1], "gridColor": "#FFFFFF", "gridWidth": {"condition": {"test": "(datum.value * 4) % 1 !== 0", "value": 0.55}, "value": 1.1}}},
   "y2": {"datum": 1.1875}}},
 {"data": {"name": "panels"}, "transform": [{"filter": "datum.p == 3"}], "mark": {"type": "text", "fontSize": 17, "color": "#1A1A1A", "font": "Liberation Sans", "baseline": "middle"}, "encoding": {"x": {"datum": 0, "type": "quantitative"}, "y": {"datum": 1.11875, "type": "quantitative"}, "text": {"field": "p", "type": "nominal"}}},
 {"data": {"name": "fit"}, "transform": [{"filter": "datum.p == 3"}], "mark": {"type": "line", "strokeWidth": 1, "interpolate": "monotone"}, "encoding": {"x": {"field": "x", "type": "quantitative"}, "y": {"field": "y", "type": "quantitative"}, "color": {"field": "c", "type": "nominal"}}},
 {"data": {"name": "obs"}, "transform": [{"filter": "datum.p == 3"}], "mark": {"type": "circle", "size": 28, "opacity": 1}, "encoding": {"x": {"field": "x", "type": "quantitative"}, "y": {"field": "y", "type": "quantitative"}, "color": {"field": "c", "type": "nominal"}}},
 {"data": {"name": "panels"}, "transform": [{"filter": "datum.p == 3"}], "mark": {"type": "point", "shape": "M-1,0H1M0,-1V1", "size": 100, "stroke": "#000000", "strokeWidth": 1.3, "filled": false, "opacity": 1}, "encoding": {"x": {"datum": 0, "type": "quantitative"}, "y": {"datum": 0.5, "type": "quantitative"}}}
]},
{"width": 310, "height": 225, "layer": [
 {"data": {"name": "panels"}, "transform": [{"filter": "datum.p == 4"}], "mark": {"type": "rect", "color": "#D4D4D4"},
  "encoding": {"x": {"datum": -4.4, "type": "quantitative", "scale": {"domain": [-4.4, 4.4], "nice": false, "zero": false}, "axis": {"title": null, "labels": false, "ticks": false, "domain": false, "values": [-4,-3,-2,-1,0,1,2,3,4], "gridColor": "#FFFFFF", "gridWidth": {"condition": {"test": "datum.value % 2 !== 0", "value": 0.55}, "value": 1.1}}},
   "x2": {"datum": 4.4},
   "y": {"datum": 1.05, "type": "quantitative", "scale": {"domain": [-0.05, 1.1875], "nice": false, "zero": false}, "axis": {"title": "Probability of responses Target moved down", "titleY": 124, "titleFontSize": 22, "titlePadding": 5, "domain": false, "values": [0,0.125,0.25,0.375,0.5,0.625,0.75,0.875,1], "labelExpr": "(datum.value * 4) % 1 === 0 ? format(datum.value, '.2f') : ''", "tickOpacity": {"condition": {"test": "(datum.value * 4) % 1 !== 0", "value": 0}, "value": 1}, "gridColor": "#FFFFFF", "gridWidth": {"condition": {"test": "(datum.value * 4) % 1 !== 0", "value": 0.55}, "value": 1.1}}},
   "y2": {"datum": 1.1875}}},
 {"data": {"name": "panels"}, "transform": [{"filter": "datum.p == 4"}], "mark": {"type": "text", "fontSize": 17, "color": "#1A1A1A", "font": "Liberation Sans", "baseline": "middle"}, "encoding": {"x": {"datum": 0, "type": "quantitative"}, "y": {"datum": 1.11875, "type": "quantitative"}, "text": {"field": "p", "type": "nominal"}}},
 {"data": {"name": "fit"}, "transform": [{"filter": "datum.p == 4"}], "mark": {"type": "line", "strokeWidth": 1, "interpolate": "monotone"}, "encoding": {"x": {"field": "x", "type": "quantitative"}, "y": {"field": "y", "type": "quantitative"}, "color": {"field": "c", "type": "nominal"}}},
 {"data": {"name": "obs"}, "transform": [{"filter": "datum.p == 4"}], "mark": {"type": "circle", "size": 28, "opacity": 1}, "encoding": {"x": {"field": "x", "type": "quantitative"}, "y": {"field": "y", "type": "quantitative"}, "color": {"field": "c", "type": "nominal"}}},
 {"data": {"name": "panels"}, "transform": [{"filter": "datum.p == 4"}], "mark": {"type": "point", "shape": "M-1,0H1M0,-1V1", "size": 100, "stroke": "#000000", "strokeWidth": 1.3, "filled": false, "opacity": 1}, "encoding": {"x": {"datum": 0, "type": "quantitative"}, "y": {"datum": 0.5, "type": "quantitative"}}}
]},
{"width": 310, "height": 225, "layer": [
 {"data": {"name": "panels"}, "transform": [{"filter": "datum.p == 5"}], "mark": {"type": "rect", "color": "#D4D4D4"},
  "encoding": {"x": {"datum": -4.4, "type": "quantitative", "scale": {"domain": [-4.4, 4.4], "nice": false, "zero": false}, "axis": {"title": null, "labels": false, "ticks": false, "domain": false, "values": [-4,-3,-2,-1,0,1,2,3,4], "gridColor": "#FFFFFF", "gridWidth": {"condition": {"test": "datum.value % 2 !== 0", "value": 0.55}, "value": 1.1}}},
   "x2": {"datum": 4.4},
   "y": {"datum": 1.05, "type": "quantitative", "scale": {"domain": [-0.05, 1.1875], "nice": false, "zero": false}, "axis": {"title": null, "labels": false, "ticks": false, "domain": false, "values": [0,0.125,0.25,0.375,0.5,0.625,0.75,0.875,1], "gridColor": "#FFFFFF", "gridWidth": {"condition": {"test": "(datum.value * 4) % 1 !== 0", "value": 0.55}, "value": 1.1}}},
   "y2": {"datum": 1.1875}}},
 {"data": {"name": "panels"}, "transform": [{"filter": "datum.p == 5"}], "mark": {"type": "text", "fontSize": 17, "color": "#1A1A1A", "font": "Liberation Sans", "baseline": "middle"}, "encoding": {"x": {"datum": 0, "type": "quantitative"}, "y": {"datum": 1.11875, "type": "quantitative"}, "text": {"field": "p", "type": "nominal"}}},
 {"data": {"name": "fit"}, "transform": [{"filter": "datum.p == 5"}], "mark": {"type": "line", "strokeWidth": 1, "interpolate": "monotone"}, "encoding": {"x": {"field": "x", "type": "quantitative"}, "y": {"field": "y", "type": "quantitative"}, "color": {"field": "c", "type": "nominal"}}},
 {"data": {"name": "obs"}, "transform": [{"filter": "datum.p == 5"}], "mark": {"type": "circle", "size": 28, "opacity": 1}, "encoding": {"x": {"field": "x", "type": "quantitative"}, "y": {"field": "y", "type": "quantitative"}, "color": {"field": "c", "type": "nominal"}}},
 {"data": {"name": "panels"}, "transform": [{"filter": "datum.p == 5"}], "mark": {"type": "point", "shape": "M-1,0H1M0,-1V1", "size": 100, "stroke": "#000000", "strokeWidth": 1.3, "filled": false, "opacity": 1}, "encoding": {"x": {"datum": 0, "type": "quantitative"}, "y": {"datum": 0.5, "type": "quantitative"}}}
]},
{"width": 310, "height": 225, "layer": [
 {"data": {"name": "panels"}, "transform": [{"filter": "datum.p == 6"}], "mark": {"type": "rect", "color": "#D4D4D4"},
  "encoding": {"x": {"datum": -4.4, "type": "quantitative", "scale": {"domain": [-4.4, 4.4], "nice": false, "zero": false}, "axis": {"title": null, "labels": false, "ticks": false, "domain": false, "values": [-4,-3,-2,-1,0,1,2,3,4], "gridColor": "#FFFFFF", "gridWidth": {"condition": {"test": "datum.value % 2 !== 0", "value": 0.55}, "value": 1.1}}},
   "x2": {"datum": 4.4},
   "y": {"datum": 1.05, "type": "quantitative", "scale": {"domain": [-0.05, 1.1875], "nice": false, "zero": false}, "axis": {"title": null, "labels": false, "ticks": false, "domain": false, "values": [0,0.125,0.25,0.375,0.5,0.625,0.75,0.875,1], "gridColor": "#FFFFFF", "gridWidth": {"condition": {"test": "(datum.value * 4) % 1 !== 0", "value": 0.55}, "value": 1.1}}},
   "y2": {"datum": 1.1875}}},
 {"data": {"name": "panels"}, "transform": [{"filter": "datum.p == 6"}], "mark": {"type": "text", "fontSize": 17, "color": "#1A1A1A", "font": "Liberation Sans", "baseline": "middle"}, "encoding": {"x": {"datum": 0, "type": "quantitative"}, "y": {"datum": 1.11875, "type": "quantitative"}, "text": {"field": "p", "type": "nominal"}}},
 {"data": {"name": "fit"}, "transform": [{"filter": "datum.p == 6"}], "mark": {"type": "line", "strokeWidth": 1, "interpolate": "monotone"}, "encoding": {"x": {"field": "x", "type": "quantitative"}, "y": {"field": "y", "type": "quantitative"}, "color": {"field": "c", "type": "nominal"}}},
 {"data": {"name": "obs"}, "transform": [{"filter": "datum.p == 6"}], "mark": {"type": "circle", "size": 28, "opacity": 1}, "encoding": {"x": {"field": "x", "type": "quantitative"}, "y": {"field": "y", "type": "quantitative"}, "color": {"field": "c", "type": "nominal"}}},
 {"data": {"name": "panels"}, "transform": [{"filter": "datum.p == 6"}], "mark": {"type": "point", "shape": "M-1,0H1M0,-1V1", "size": 100, "stroke": "#000000", "strokeWidth": 1.3, "filled": false, "opacity": 1}, "encoding": {"x": {"datum": 0, "type": "quantitative"}, "y": {"datum": 0.5, "type": "quantitative"}}}
]},
{"width": 310, "height": 225, "layer": [
 {"data": {"name": "panels"}, "transform": [{"filter": "datum.p == 7"}], "mark": {"type": "rect", "color": "#D4D4D4"},
  "encoding": {"x": {"datum": -4.4, "type": "quantitative", "scale": {"domain": [-4.4, 4.4], "nice": false, "zero": false}, "axis": {"title": "Nearby target onset in frames (difference from standard stimulus)", "titleX": 473, "titleAlign": "center", "titleFontSize": 22, "titlePadding": 9, "domain": false, "values": [-4,-3,-2,-1,0,1,2,3,4], "labelExpr": "datum.value % 2 === 0 ? '' + datum.value : ''", "tickOpacity": {"condition": {"test": "datum.value % 2 !== 0", "value": 0}, "value": 1}, "gridColor": "#FFFFFF", "gridWidth": {"condition": {"test": "datum.value % 2 !== 0", "value": 0.55}, "value": 1.1}}},
   "x2": {"datum": 4.4},
   "y": {"datum": 1.05, "type": "quantitative", "scale": {"domain": [-0.05, 1.1875], "nice": false, "zero": false}, "axis": {"title": null, "domain": false, "values": [0,0.125,0.25,0.375,0.5,0.625,0.75,0.875,1], "labelExpr": "(datum.value * 4) % 1 === 0 ? format(datum.value, '.2f') : ''", "tickOpacity": {"condition": {"test": "(datum.value * 4) % 1 !== 0", "value": 0}, "value": 1}, "gridColor": "#FFFFFF", "gridWidth": {"condition": {"test": "(datum.value * 4) % 1 !== 0", "value": 0.55}, "value": 1.1}}},
   "y2": {"datum": 1.1875}}},
 {"data": {"name": "panels"}, "transform": [{"filter": "datum.p == 7"}], "mark": {"type": "text", "fontSize": 17, "color": "#1A1A1A", "font": "Liberation Sans", "baseline": "middle"}, "encoding": {"x": {"datum": 0, "type": "quantitative"}, "y": {"datum": 1.11875, "type": "quantitative"}, "text": {"field": "p", "type": "nominal"}}},
 {"data": {"name": "fit"}, "transform": [{"filter": "datum.p == 7"}], "mark": {"type": "line", "strokeWidth": 1, "interpolate": "monotone"}, "encoding": {"x": {"field": "x", "type": "quantitative"}, "y": {"field": "y", "type": "quantitative"}, "color": {"field": "c", "type": "nominal"}}},
 {"data": {"name": "obs"}, "transform": [{"filter": "datum.p == 7"}], "mark": {"type": "circle", "size": 28, "opacity": 1}, "encoding": {"x": {"field": "x", "type": "quantitative"}, "y": {"field": "y", "type": "quantitative"}, "color": {"field": "c", "type": "nominal"}}},
 {"data": {"name": "panels"}, "transform": [{"filter": "datum.p == 7"}], "mark": {"type": "point", "shape": "M-1,0H1M0,-1V1", "size": 100, "stroke": "#000000", "strokeWidth": 1.3, "filled": false, "opacity": 1}, "encoding": {"x": {"datum": 0, "type": "quantitative"}, "y": {"datum": 0.5, "type": "quantitative"}}}
]}
],
"config": {
 "view": {"stroke": null, "fill": "#EBEBEB"},
 "font": "Liberation Sans",
 "axis": {"labelFont": "Liberation Sans", "titleFont": "Liberation Sans", "labelFontSize": 17, "labelColor": "#8A8A8A", "tickColor": "#8A8A8A", "tickSize": 4, "tickWidth": 1, "labelPadding": 3, "titleFontSize": 20, "titleFontWeight": "normal", "titleColor": "#000000", "labelFlush": false, "labelOverlap": false, "gridOpacity": 1}
}
}
